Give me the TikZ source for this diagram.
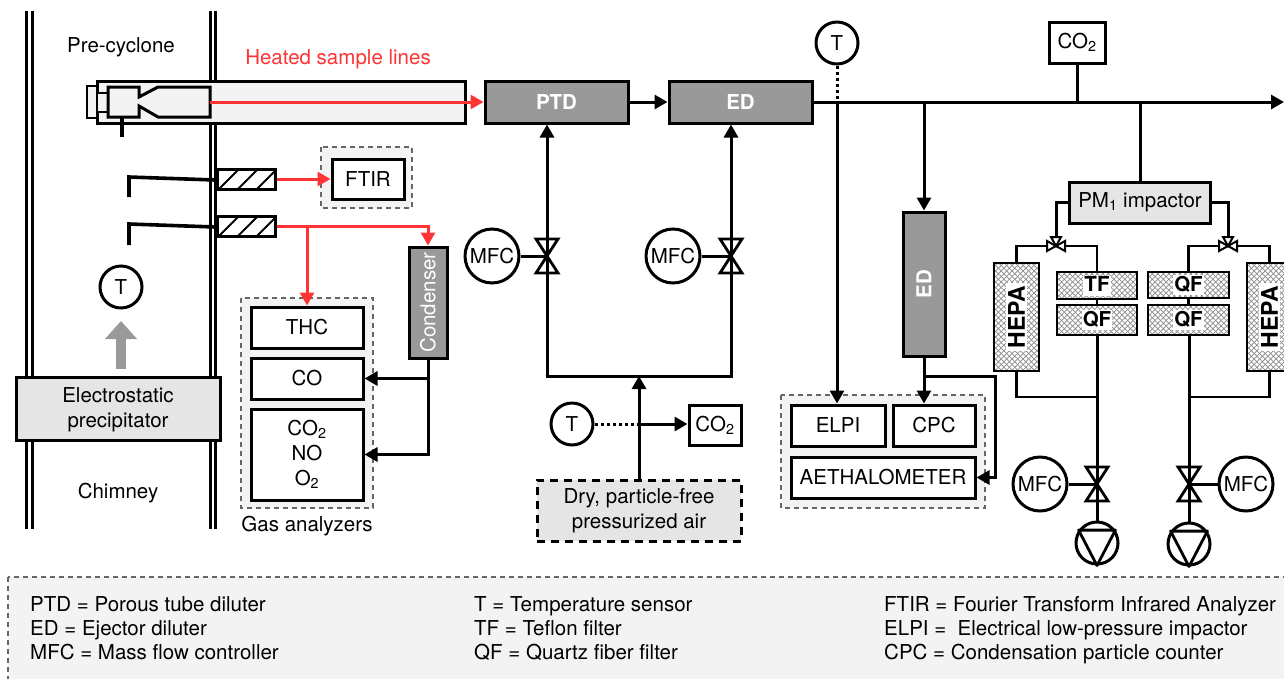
\documentclass[tikz,border=0pt]{standalone}
\usepackage{fontspec}
\usepackage{graphicx}
\setmainfont{TeX Gyre Heros}
\usetikzlibrary{arrows.meta,calc,patterns}
\definecolor{palegray}{HTML}{F3F3F3}
\definecolor{lightgray}{HTML}{E5E5E5}
\definecolor{darkgray}{HTML}{999999}
\definecolor{hotred}{HTML}{FF3333}
\pgfdeclarepatternformonly{diamonds}{\pgfqpoint{-1pt}{-1pt}}{\pgfqpoint{6.5pt}{6.5pt}}{\pgfqpoint{5.5pt}{5.5pt}}{
	\pgfsetlinewidth{0.7pt}
	\pgfpathmoveto{\pgfqpoint{0pt}{0pt}}
	\pgfpathlineto{\pgfqpoint{5.6pt}{5.6pt}}
	\pgfpathmoveto{\pgfqpoint{0pt}{5.5pt}}
	\pgfpathlineto{\pgfqpoint{5.6pt}{-0.1pt}}
	\pgfusepath{stroke}
}
\newcommand{\filtertext}[1]{\colorbox{white}{\hspace{-2pt}\raisebox{0pt}[13pt][1pt]{#1}\hspace{-2pt}}}
\newcommand{\hepatext}[1]{\colorbox{white}{\hspace{-1pt}\rotatebox{90}{\fontsize{23}{26}\selectfont\bfseries #1}\hspace{-1pt}}}
\tikzset{
	txt/.style={inner sep=0pt, align=center, font=\fontsize{20.5}{25}\selectfont},
	boldtxt/.style={font=\fontsize{20.5}{25}\selectfont\bfseries},
	size/.style 2 args={minimum width=#1pt, minimum height=#2pt},
	box/.style={draw, line width=3pt, fill=white, inner sep=0pt, txt},
	graybox/.style={box, fill=lightgray},
	darkbox/.style={box, fill=darkgray, text=white},
	filterbox/.style={draw, line width=2.2pt, pattern=diamonds, pattern color=black!45, inner sep=0pt, boldtxt},
	groupbox/.style={draw=black!60, line width=1.5pt, dash pattern=on 5pt off 4pt, fill=palegray},
	sensor/.style={draw, circle, line width=3pt, fill=white, inner sep=0pt, minimum size=42pt, txt},
	mfc/.style={draw, circle, line width=3pt, fill=white, inner sep=0pt, minimum size=54pt, txt},
	pumpc/.style={draw, circle, line width=3pt, fill=white, inner sep=0pt, minimum size=42pt},
	hatchbox/.style={draw, line width=3pt, fill=white, size={58}{20}, path picture={
		\foreach \s in {-17,2,21,40}
			\draw[line width=2pt] ([xshift=\s pt]path picture bounding box.south west) -- ++(20,-20);
	}},
	pipe/.style={line width=3pt},
	thinpipe/.style={line width=2.4pt},
	flow/.style={pipe, -{Triangle[length=13pt,width=14pt]}},
	redflow/.style={pipe, draw=hotred, -{Triangle[length=13pt,width=14pt]}},
	dotline/.style={line width=3pt, dash pattern=on 3pt off 3pt},
	valve/.pic={\draw[line width=2.8pt] (-11,-17) -- (11,-17) -- (-11,17) -- (11,17) -- cycle;},
	smallvalve/.pic={
		\draw[line width=2pt, fill=white] (-9,-5) -- (9,5) -- (9,-5) -- (-9,5) -- cycle;
		\draw[line width=2pt, fill=white] (0,0) -- (-5,-9) -- (5,-9) -- cycle;
	},
}
\begin{document}
\begin{tikzpicture}[x=1pt,y=-1pt]
	\useasboundingbox (0,0) rectangle (1284,678);
	\clip (0,0) rectangle (1284,678);

	\foreach \x in {26,32,210,215} {
			\draw[line width=3pt] (\x,11) -- (\x,529);
		}

	\draw[line width=2.8pt, fill=palegray] (87,86) rectangle (97,118);
	\node[box, fill=palegray, size={368}{42}] (tube) at (281,102) {};
	\draw[line width=2.8pt, fill=palegray] (97,93) rectangle (108,112);
	\draw[line width=3pt, fill=palegray] (108,87) -- (139,87) -- (139,97) -- (158,87) -- (210,87) -- (210,117) -- (158,117) -- (139,106) -- (139,117) -- (108,117) -- cycle;
	\draw[line width=3.2pt] (122,117) -- (122,137);
	\coordinate (cycout) at (210,102);

	\node[txt, anchor=base] (precyclone) at (121,52) {Pre-cyclone};
	\node[txt, anchor=base, text=hotred] (heated) at (338,64) {Heated sample lines};
	\node[txt, anchor=base] (chimney) at (118,498) {Chimney};

	\draw[line width=3.6pt] (129,197) -- (129,177) -- (215,180);
	\draw[line width=3.6pt] (129,245) -- (129,224) -- (215,227);
	\node[hatchbox] (filtera) at (246,179) {};
	\node[hatchbox] (filterb) at (246,226) {};

	\draw[groupbox] (321,147) rectangle (412,208);
	\node[box, size={72}{40}] (ftir) at (368,179) {FTIR};
	\draw[redflow] (filtera.east) -- (ftir.west);

	\draw[groupbox] (241,298) rectangle (373,508);
	\node[box, size={112}{41}] (thc) at (307,327.5) {THC};
	\node[box, size={112}{41}] (co) at (307,378.5) {CO};
	\node[box, size={112}{91}] (gases) at (307,454.5) {CO\textsubscript{2}\\NO\\O\textsubscript{2}};
	\node[txt, anchor=base] (gaslabel) at (307,531) {Gas analyzers};
	\node[darkbox, size={38}{111}] (cond) at (428,302.5) {\rotatebox{90}{Condenser}};

	\coordinate (jred) at (307,227);
	\draw[redflow] (filterb.east) -| (cond.north);
	\draw[redflow] (jred) -- (thc.north);
	\draw[flow] (cond.south) |- (co.east);
	\draw[flow] (cond.south) |- (gases.east);

	\node[sensor] (tstack) at (121,287) {T};
	\node[graybox, size={204}{63}] (esp) at (118,408.5) {\rule{0pt}{18pt}Electrostatic\\precipitator};
	\draw[line width=10pt, draw=darkgray, -{Triangle[length=18pt,width=31pt]}] (esp.north -| tstack) ++(0,-7) -- (tstack.south |- 0,321);

	\node[darkbox, boldtxt, size={143}{42}] (ptd) at (556.5,102) {PTD};
	\node[darkbox, boldtxt, size={143}{42}] (eda) at (740.5,102) {ED};
	\draw[redflow] (cycout) -- (ptd.west);
	\draw[flow] (ptd.east) -- (eda.west);

	\coordinate (valvea) at (547,256);
	\coordinate (valveb) at (731,256);
	\coordinate (jair) at (639,376);
	\coordinate (jsense) at (639,424);
	\node[mfc] (mfca) at (492,256) {MFC};
	\node[mfc] (mfcb) at (673,256) {MFC};
	\draw[flow] (jair) -| (valvea) -- (valvea |- ptd.south);
	\draw[flow] (jair) -| (valveb) -- (valveb |- eda.south);
	\draw[pipe] (mfca) -- (valvea);
	\draw[pipe] (mfcb) -- (valveb);
	\pic at (valvea) {valve};
	\pic at (valveb) {valve};

	\node[sensor] (tair) at (572,424) {T};
	\node[box, size={52}{40}] (coair) at (715,425) {CO\textsubscript{2}};
	\node[graybox, dash pattern=on 8pt off 6pt, size={204}{61}] (air) at (639,510.5) {Dry, particle-free\\pressurized air};
	\draw[flow] (air.north) -- (jair);
	\draw[dotline] (tair.east) -- (jsense);
	\draw[flow] (jsense) -- (coair.west |- jsense);

	\node[sensor] (ttop) at (837,43) {T};
	\node[box, size={56}{41}] (cotop) at (1077,42.5) {CO\textsubscript{2}};
	\coordinate (outlet) at (1284,102);
	\coordinate (jtop) at (837,102);
	\coordinate (jed) at (924,102);
	\coordinate (jpm) at (1140,102);
	\draw[flow] (eda.east) -- (outlet);
	\draw[dotline] (ttop.south) -- (jtop);
	\draw[pipe] (cotop.south) -- (cotop.south |- outlet);

	\draw[groupbox] (781,395) rectangle (985,508);
	\node[box, size={94}{41}] (elpi) at (838,425.5) {ELPI};
	\node[box, size={82}{41}] (cpc) at (934,425.5) {CPC};
	\node[box, size={184}{41}] (aeth) at (883,477.5) {AETHALOMETER};
	\node[darkbox, boldtxt, size={42}{144}] (edb) at (924,284) {\rotatebox{90}{ED}};
	\coordinate (jcpc) at (924,376);
	\coordinate (jaeth) at (995,376);
	\draw[flow] (jtop) -- (jtop |- elpi.north);
	\draw[flow] (jed) -- (edb.north);
	\draw[flow] (edb.south) -- (edb.south |- cpc.north);
	\draw[flow] (jcpc) -- (jaeth) |- (aeth.east);

	\node[graybox, size={141}{41}] (pm) at (1140,202.5) {PM\textsubscript{1} impactor};
	\draw[pipe] (jpm) -- (pm.north);

	\coordinate (valvec) at (1056,246);
	\coordinate (valved) at (1228,246);
	\draw[pipe] (pm.west) -| (valvec);
	\draw[pipe] (pm.east) -| (valved);

	\node[filterbox, size={45}{108}] (hepal) at (1016.5,317) {\hepatext{HEPA}};
	\node[filterbox, size={45}{108}] (hepar) at (1269.5,317) {\hepatext{HEPA}};
	\node[filterbox, size={80}{27}] (tf) at (1097,285.5) {\filtertext{TF}};
	\node[filterbox, size={80}{30}] (qfa) at (1097,320) {\filtertext{QF}};
	\node[filterbox, size={81}{26}] (qfb) at (1188.5,285) {\filtertext{QF}};
	\node[filterbox, size={81}{30}] (qfc) at (1188.5,320) {\filtertext{QF}};

	\coordinate (valvee) at (1097,484);
	\coordinate (valvef) at (1189,484);
	\coordinate (jl) at (1097,397);
	\coordinate (jr) at (1189,397);
	\node[mfc] (mfcc) at (1040,484) {MFC};
	\node[mfc] (mfcd) at (1246,484) {MFC};
	\node[pumpc] (pumpa) at (1097,543) {};
	\node[pumpc] (pumpb) at (1189,544) {};

	\draw[thinpipe] (hepal.north) |- (valvec) -| (tf.north);
	\draw[thinpipe] (qfb.north) |- (valved) -| (hepar.north);
	\draw[thinpipe] (tf.south) -- (qfa.north);
	\draw[thinpipe] (qfb.south) -- (qfc.north);
	\draw[thinpipe] (hepal.south) |- (jl);
	\draw[thinpipe] (hepar.south) |- (jr);
	\draw[pipe] (qfa.south) -- (pumpa.north);
	\draw[pipe] (qfc.south -| jr) -- (pumpb.north);
	\draw[pipe] (mfcc) -- (valvee);
	\draw[pipe] (mfcd) -- (valvef);
	\pic at (valvec) {smallvalve};
	\pic at (valved) {smallvalve};
	\pic at (valvee) {valve};
	\pic at (valvef) {valve};
	\foreach \p in {pumpa,pumpb} {
			\draw[line width=2.8pt, line join=round] (\p.145) -- (\p.35) -- (\p.south) -- cycle;
		}

	\draw[groupbox] (8,577) rectangle (1300,690);
	\foreach \n/\x/\y/\t in {
			lega/30/611/{PTD = Porous tube diluter},
			legb/30/635/{ED = Ejector diluter},
			legc/30/659/{MFC = Mass flow controller},
			legd/474/611/{T = Temperature sensor},
			lege/474/635/{TF = Teflon filter},
			legf/474/659/{QF = Quartz fiber filter},
			legg/884/611/{FTIR = Fourier Transform Infrared Analyzer},
			legh/884/635/{ELPI =~ Electrical low-pressure impactor},
			legi/884/659/{CPC = Condensation particle counter}} {
			\node[txt, anchor=base west] (\n) at (\x,\y) {\t};
		}
\end{tikzpicture}
\end{document}
